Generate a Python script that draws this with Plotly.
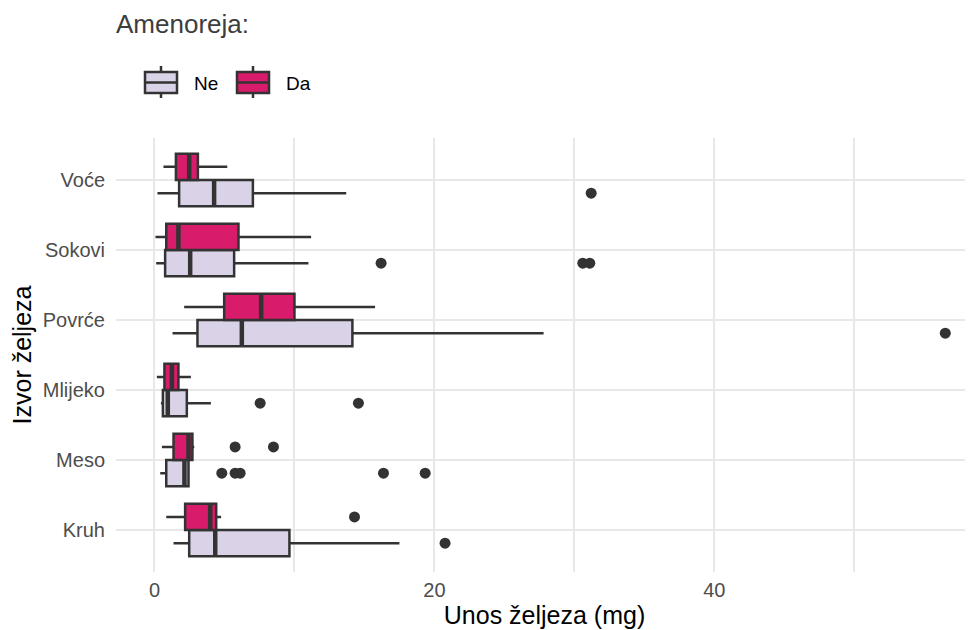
import plotly.graph_objects as go

# ---- data ----
categories = ["Kruh", "Meso", "Mlijeko", "Povrće", "Sokovi", "Voće"]
groups = ["Ne", "Da"]

ne_q1 = [2.48, 0.84, 0.60, 3.07, 0.76, 1.76]
ne_median = [4.34, 2.14, 0.95, 6.24, 2.55, 4.26]
ne_q3 = [9.64, 2.43, 2.31, 14.14, 5.69, 7.03]
ne_lower = [1.36, 0.41, 0.46, 1.29, 0.12, 0.21]
ne_upper = [17.5, 2.43, 4.03, 27.8, 11.0, 13.7]
ne_out_cat = ["Kruh", "Meso", "Meso", "Meso", "Meso", "Meso", "Mlijeko", "Mlijeko",
              "Povrće", "Sokovi", "Sokovi", "Sokovi", "Voće"]
ne_out_val = [20.76, 4.81, 5.76, 6.12, 16.36, 19.34, 7.55, 14.57,
              56.5, 16.19, 30.6, 31.1, 31.2]

da_q1 = [2.19, 1.36, 0.71, 4.98, 0.84, 1.53]
da_median = [3.98, 2.43, 1.24, 7.62, 1.71, 2.48]
da_q3 = [4.41, 2.71, 1.71, 10.0, 6.0, 3.10]
da_lower = [0.84, 0.53, 0.17, 2.12, 0.07, 0.64]
da_upper = [4.76, 2.84, 2.60, 15.76, 11.19, 5.20]
da_out_cat = ["Kruh", "Meso", "Meso"]
da_out_val = [14.29, 5.76, 8.5]

x_tick_vals = [0, 20, 40]
x_tick_text = ["0", "20", "40"]

# ---- styling ----
FONT = "Liberation Sans, Arial, sans-serif"
COL = {"Ne": "#dad3e8", "Da": "#d81b6a"}
OFFSET = {"Ne": -0.1875, "Da": 0.1875}
BOXW = 0.375
LINE = "#333333"

# page body has an 8px margin: lay the figure out 8px smaller
W, H = 965, 622
PL, PT, PR, PB = 108, 130, 0, 58
PW, PH = W - PL - PR, H - PT - PB


def px(x):  # screen pixel -> paper x
    return (x - 8 - PL) / PW


def py(y):  # screen pixel -> paper y
    return (PT + PH - (y - 8)) / PH


stats = {
    "Ne": dict(q1=ne_q1, median=ne_median, q3=ne_q3, lowerfence=ne_lower, upperfence=ne_upper,
               out_cat=ne_out_cat, out_val=ne_out_val),
    "Da": dict(q1=da_q1, median=da_median, q3=da_q3, lowerfence=da_lower, upperfence=da_upper,
               out_cat=da_out_cat, out_val=da_out_val),
}

pos = {c: i + 1 for i, c in enumerate(categories)}

fig = go.Figure()
for g in groups:
    s = stats[g]
    ys = [pos[c] + OFFSET[g] for c in categories]
    fig.add_trace(go.Box(
        name=g, orientation="h", y=ys,
        q1=s["q1"], median=s["median"], q3=s["q3"],
        lowerfence=s["lowerfence"], upperfence=s["upperfence"],
        width=BOXW, whiskerwidth=0, boxpoints=False,
        fillcolor=COL[g], line=dict(color=LINE, width=2.5),
        showlegend=False,
    ))
    # thicker median lines
    mx, my = [], []
    for c, m in zip(categories, s["median"]):
        p = pos[c] + OFFSET[g]
        mx += [m, m, None]
        my += [p - BOXW / 2, p + BOXW / 2, None]
    fig.add_trace(go.Scatter(x=mx, y=my, mode="lines", line=dict(color=LINE, width=4.5),
                             showlegend=False, hoverinfo="skip"))
    # outliers
    fig.add_trace(go.Scatter(
        x=s["out_val"], y=[pos[c] + OFFSET[g] for c in s["out_cat"]],
        mode="markers", marker=dict(color=LINE, size=11),
        showlegend=False,
    ))

# ---- manual legend (ggplot-style keys) ----
shapes, annotations = [], []
annotations.append(dict(text="Amenoreja:", xref="paper", yref="paper", x=px(114), y=py(24),
                        xanchor="left", yanchor="middle", showarrow=False,
                        font=dict(size=26, color="#3d3d3d", family=FONT)))
key_left = {"Ne": 145, "Da": 237}
for g in groups:
    x0 = key_left[g]
    x1 = x0 + 32
    xc = (x0 + x1) / 2
    shapes.append(dict(type="line", xref="paper", yref="paper", x0=px(xc), x1=px(xc),
                       y0=py(66), y1=py(98), line=dict(color=LINE, width=2.5), layer="above"))
    shapes.append(dict(type="rect", xref="paper", yref="paper", x0=px(x0), x1=px(x1),
                       y0=py(72), y1=py(93), fillcolor=COL[g],
                       line=dict(color=LINE, width=2.5), layer="above"))
    shapes.append(dict(type="line", xref="paper", yref="paper", x0=px(x0), x1=px(x1),
                       y0=py(82.5), y1=py(82.5), line=dict(color=LINE, width=2.5), layer="above"))
    annotations.append(dict(text=g, xref="paper", yref="paper", x=px(x1 + 15), y=py(83),
                            xanchor="left", yanchor="middle", showarrow=False,
                            font=dict(size=19, color="black", family=FONT)))

fig.update_layout(
    width=W, height=H,
    margin=dict(l=PL, r=PR, t=PT, b=PB),
    paper_bgcolor="white", plot_bgcolor="white",
    font=dict(family=FONT, color="#4d4d4d", size=20),
    boxmode="overlay",
    showlegend=False,
    shapes=shapes, annotations=annotations,
)
fig.update_xaxes(
    range=[-2.75, 58.48], tickvals=x_tick_vals, ticktext=x_tick_text,
    showgrid=True, gridcolor="#e8e8e8", gridwidth=2,
    minor=dict(dtick=10, tick0=0, showgrid=True, gridcolor="#e8e8e8", gridwidth=1.5),
    zeroline=False, showline=False, ticks="", ticklabelstandoff=4,
    title=dict(text="Unos željeza (mg)", font=dict(size=25, color="black"), standoff=3),
)
fig.update_yaxes(
    range=[0.4, 6.6], tickvals=[pos[c] for c in categories], ticktext=categories,
    showgrid=True, gridcolor="#e8e8e8", gridwidth=2,
    zeroline=False, showline=False, ticks="", ticklabelstandoff=10,
    title=dict(text="Izvor željeza", font=dict(size=25, color="black"), standoff=8),
)

fig.write_html("out.html")
